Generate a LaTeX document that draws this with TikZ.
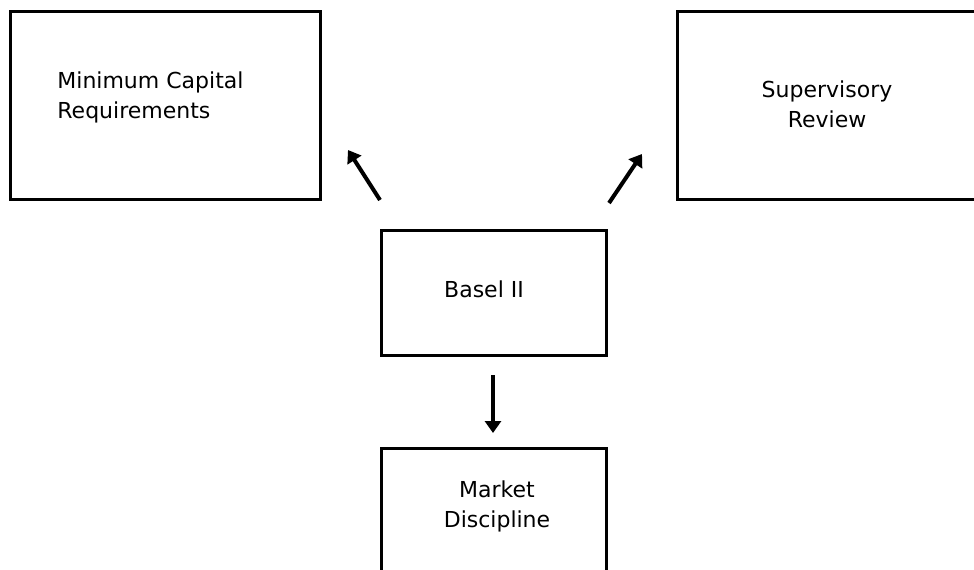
\documentclass[tikz,border=0pt]{standalone}
\usepackage{fontspec}
\setmainfont{DejaVu Sans}
\usetikzlibrary{arrows.meta}
\tikzset{box/.style={draw,line width=1.5pt,inner sep=0pt},
lbl/.style={font=\fontsize{11}{15}\selectfont,inner sep=0pt},
arr/.style={-{Triangle[length=6pt,width=8pt]},line width=2pt}}
\begin{document}
\begin{tikzpicture}[x=0.5pt,y=-0.5pt]
\clip(0,0)rectangle(974,569);
\node[box,minimum width=155pt,minimum height=94pt](mcr)at(165,105){};
\node[box,minimum width=150pt,minimum height=94pt](sr)at(827,105){};
\node[box,minimum width=112.5pt,minimum height=62.5pt](basel)at(493.5,292.5){};
\node[box,minimum width=112.5pt,minimum height=70pt](md)at(493.5,518){};
\node[lbl,align=left,anchor=west](mcrtext)at(57,97){Minimum Capital\\Requirements};
\node[lbl,align=center](srtext)at(827,104){Supervisory\\Review};
\node[lbl](baseltext)at(484,289){Basel II};
\node[lbl,align=center](mdtext)at(497,506){Market\\Discipline};
\coordinate(a)at(380,200);\coordinate(aa)at(348,150);
\coordinate(b)at(609,203);\coordinate(bb)at(642,154);
\coordinate(c)at(493,375);\coordinate(cc)at(493,433);
\draw[arr](a)--(aa);
\draw[arr](b)--(bb);
\draw[arr](c)--(cc);
\end{tikzpicture}
\end{document}
